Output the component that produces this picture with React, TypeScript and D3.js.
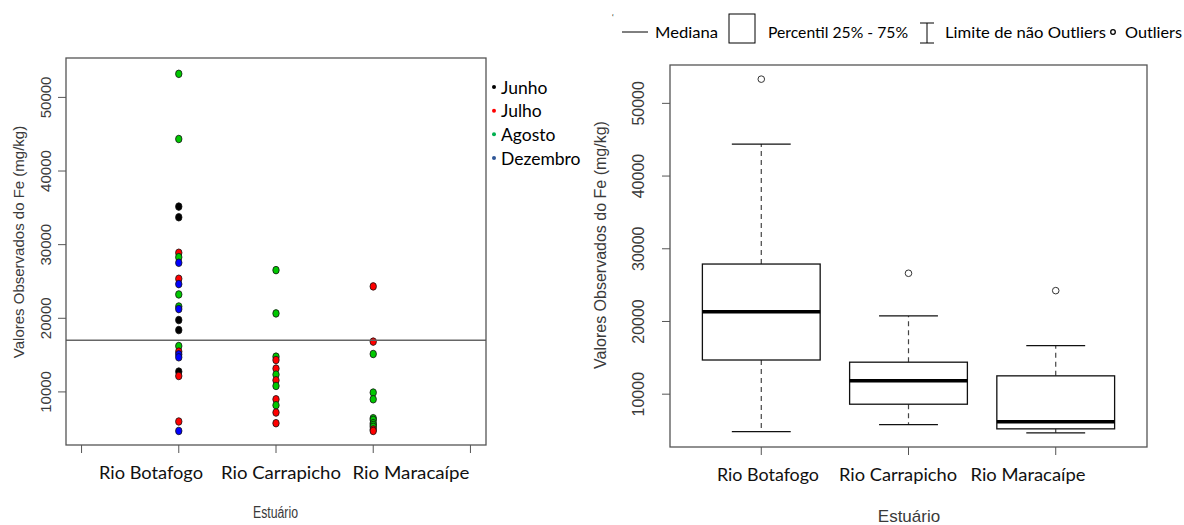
import React, { useRef, useEffect } from "react";
import * as d3 from "d3";

const estuaries = ["Rio Botafogo", "Rio Carrapicho", "Rio Maracaípe"];
const months = ["Junho", "Julho", "Agosto", "Dezembro"];
const yTicks = [10000, 20000, 30000, 40000, 50000];

// observações [Fe mg/kg, mês] por estuário
const botafogoObs: [number, string][] = [
  [53200, "Agosto"], [44350, "Agosto"], [35170, "Junho"], [33720, "Junho"],
  [28900, "Julho"], [28300, "Agosto"], [27540, "Dezembro"], [25370, "Julho"],
  [24640, "Dezembro"], [23240, "Agosto"], [21600, "Agosto"], [21250, "Dezembro"],
  [19760, "Junho"], [18400, "Junho"], [16230, "Agosto"], [15470, "Julho"],
  [15100, "Dezembro"], [14700, "Dezembro"], [12760, "Junho"], [12160, "Julho"],
  [5980, "Julho"], [4700, "Dezembro"],
];
const carrapichoObs: [number, string][] = [
  [26540, "Agosto"], [20660, "Agosto"], [14790, "Agosto"], [14330, "Julho"],
  [13170, "Julho"], [12350, "Agosto"], [11580, "Julho"], [10810, "Agosto"],
  [9000, "Julho"], [8190, "Agosto"], [7200, "Julho"], [5750, "Julho"],
];
const maracaipeObs: [number, string][] = [
  [24330, "Julho"], [16830, "Julho"], [15150, "Agosto"], [9910, "Agosto"],
  [9000, "Agosto"], [6430, "Agosto"], [6200, "Agosto"], [5750, "Agosto"],
  [5500, "Agosto"], [5250, "Agosto"], [4900, "Julho"], [4700, "Julho"],
];
const observations = [botafogoObs, carrapichoObs, maracaipeObs];
const referenceLine = 17000;

// estatísticas do boxplot
const boxLow = [4850, 5820, 4680];
const boxQ1 = [14700, 8620, 5230];
const boxMedian = [21350, 11830, 6190];
const boxQ3 = [27900, 14400, 12520];
const boxHigh = [44400, 20760, 16680];
const boxOutliers = [[53330], [26630], [24240]];

const pointColor: Record<string, string> = {
  Junho: "#000000",
  Julho: "#ff0000",
  Agosto: "#00c800",
  Dezembro: "#0000ff",
};
const legendColor: Record<string, string> = {
  Junho: "#000000",
  Julho: "#ff0000",
  Agosto: "#00b050",
  Dezembro: "#2e5597",
};

const axisText = "#3a3a3a";
const frameColor = "#555555";
const arial = "'Liberation Sans', Arial, sans-serif";
const calibri = "Lato, 'Open Sans', sans-serif";
// largura dos rótulos (fonte Calibri no original)
const labelWidths = [104, 120, 117];

type G = d3.Selection<SVGGElement, unknown, null, undefined>;

function drawScatter(g: G) {
  const x = d3.scaleLinear().domain([-0.16, 4.16]).range([66, 486]);
  const y = d3.scaleLinear().domain([2790, 55350]).range([445, 58]);

  // points
  observations.forEach((obs, i) => {
    g.selectAll(null)
      .data(obs)
      .enter()
      .append("ellipse")
      .attr("cx", x(i + 1))
      .attr("cy", (d) => y(d[0]))
      .attr("rx", 3.2)
      .attr("ry", 3.8)
      .attr("fill", (d) => pointColor[d[1]])
      .attr("stroke", "#111")
      .attr("stroke-width", 0.8);
  });

  g.append("line")
    .attr("x1", x.range()[0])
    .attr("x2", x.range()[1])
    .attr("y1", y(referenceLine))
    .attr("y2", y(referenceLine))
    .attr("stroke", "#666")
    .attr("stroke-width", 1.5);

  g.append("rect")
    .attr("x", 66)
    .attr("y", 58)
    .attr("width", 420)
    .attr("height", 387)
    .attr("fill", "none")
    .attr("stroke", frameColor)
    .attr("stroke-width", 1.3);

  // y axis
  yTicks.forEach((t) => {
    g.append("line")
      .attr("x1", 58).attr("x2", 66)
      .attr("y1", y(t)).attr("y2", y(t))
      .attr("stroke", frameColor);
    g.append("text")
      .attr("transform", `translate(45,${y(t)}) rotate(-90)`)
      .attr("text-anchor", "middle")
      .attr("dominant-baseline", "central")
      .attr("font-family", arial)
      .attr("font-size", 15)
      .attr("fill", axisText)
      .text(t);
  });

  // x axis ticks 0..4
  d3.range(0, 5).forEach((t) => {
    g.append("line")
      .attr("x1", x(t)).attr("x2", x(t))
      .attr("y1", 445).attr("y2", 453)
      .attr("stroke", frameColor);
  });

  const lx = d3.scalePoint<string>().domain(estuaries).range([151, 411]);
  estuaries.forEach((e, i) => {
    g.append("text")
      .attr("x", lx(e)! - labelWidths[i] / 2)
      .attr("y", 479)
      .attr("font-family", calibri)
      .attr("font-size", 17.5)
      .attr("textLength", labelWidths[i])
      .attr("lengthAdjust", "spacingAndGlyphs")
      .attr("fill", "#111")
      .text(e);
  });

  g.append("text")
    .attr("x", 275.5)
    .attr("y", 518)
    .attr("text-anchor", "middle")
    .attr("font-family", arial)
    .attr("font-size", 16)
    .attr("textLength", 45)
    .attr("lengthAdjust", "spacingAndGlyphs")
    .attr("fill", axisText)
    .text("Estuário");

  g.append("text")
    .attr("transform", "translate(18,242) rotate(-90)")
    .attr("text-anchor", "middle")
    .attr("dominant-baseline", "central")
    .attr("font-family", arial)
    .attr("font-size", 15)
    .attr("fill", axisText)
    .text("Valores Observados do Fe (mg/kg)");

  // legend
  const ly = d3.scaleLinear().domain([0, months.length - 1]).range([87, 158]);
  months.forEach((m, k) => {
    g.append("circle")
      .attr("cx", 494)
      .attr("cy", ly(k))
      .attr("r", 2)
      .attr("fill", legendColor[m]);
    g.append("text")
      .attr("x", 501)
      .attr("y", ly(k))
      .attr("dominant-baseline", "central")
      .attr("font-family", calibri)
      .attr("font-size", 17.5)
      .attr("fill", "#000")
      .text(m);
  });
}

function drawBoxplot(g: G) {
  const x = d3.scaleLinear().domain([0.38, 3.62]).range([670, 1147]);
  const y = d3.scaleLinear().domain([2734, 55276]).range([447, 65]);

  estuaries.forEach((_e, i) => {
    const c = i + 1;
    // whiskers
    [[boxQ3[i], boxHigh[i]], [boxQ1[i], boxLow[i]]].forEach(([a, b]) => {
      g.append("line")
        .attr("x1", x(c)).attr("x2", x(c))
        .attr("y1", y(a)).attr("y2", y(b))
        .attr("stroke", "#444")
        .attr("stroke-width", 1.2)
        .attr("stroke-dasharray", "5,4");
      g.append("line")
        .attr("x1", x(c - 0.2)).attr("x2", x(c + 0.2))
        .attr("y1", y(b)).attr("y2", y(b))
        .attr("stroke", "#111")
        .attr("stroke-width", 1.3);
    });
    g.append("rect")
      .attr("x", x(c - 0.4))
      .attr("y", y(boxQ3[i]))
      .attr("width", x(c + 0.4) - x(c - 0.4))
      .attr("height", y(boxQ1[i]) - y(boxQ3[i]))
      .attr("fill", "#fff")
      .attr("stroke", "#111")
      .attr("stroke-width", 1.3);
    g.append("line")
      .attr("x1", x(c - 0.4)).attr("x2", x(c + 0.4))
      .attr("y1", y(boxMedian[i])).attr("y2", y(boxMedian[i]))
      .attr("stroke", "#000")
      .attr("stroke-width", 3.5);
    boxOutliers[i].forEach((v) => {
      g.append("circle")
        .attr("cx", x(c))
        .attr("cy", y(v))
        .attr("r", 3.3)
        .attr("fill", "#fff")
        .attr("stroke", "#333")
        .attr("stroke-width", 1);
    });
  });

  g.append("rect")
    .attr("x", 670)
    .attr("y", 65)
    .attr("width", 477)
    .attr("height", 382)
    .attr("fill", "none")
    .attr("stroke", frameColor)
    .attr("stroke-width", 1.3);

  yTicks.forEach((t) => {
    g.append("line")
      .attr("x1", 662).attr("x2", 670)
      .attr("y1", y(t)).attr("y2", y(t))
      .attr("stroke", frameColor);
    g.append("text")
      .attr("transform", `translate(638,${y(t)}) rotate(-90)`)
      .attr("text-anchor", "middle")
      .attr("dominant-baseline", "central")
      .attr("font-family", arial)
      .attr("font-size", 16)
      .attr("fill", axisText)
      .text(t);
  });

  estuaries.forEach((_e, i) => {
    g.append("line")
      .attr("x1", x(i + 1)).attr("x2", x(i + 1))
      .attr("y1", 447).attr("y2", 455)
      .attr("stroke", frameColor);
  });

  const lx = d3.scalePoint<string>().domain(estuaries).range([768, 1028]);
  estuaries.forEach((e, i) => {
    g.append("text")
      .attr("x", lx(e)! - (labelWidths[i] - 2) / 2)
      .attr("y", 481)
      .attr("font-family", calibri)
      .attr("font-size", 17.5)
      .attr("textLength", labelWidths[i] - 2)
      .attr("lengthAdjust", "spacingAndGlyphs")
      .attr("fill", "#111")
      .text(e);
  });

  g.append("text")
    .attr("x", 909)
    .attr("y", 522)
    .attr("text-anchor", "middle")
    .attr("font-family", arial)
    .attr("font-size", 17)
    .attr("fill", axisText)
    .text("Estuário");

  g.append("text")
    .attr("transform", "translate(600,245) rotate(-90)")
    .attr("text-anchor", "middle")
    .attr("dominant-baseline", "central")
    .attr("font-family", arial)
    .attr("font-size", 16)
    .attr("fill", axisText)
    .text("Valores Observados do Fe (mg/kg)");

  // legend on top
  const ly = 31;
  const legendText = (x0: number, len: number, s: string) =>
    g.append("text")
      .attr("x", x0).attr("y", ly).attr("dominant-baseline", "central")
      .attr("font-family", calibri).attr("font-size", 16)
      .attr("textLength", len).attr("lengthAdjust", "spacingAndGlyphs")
      .attr("fill", "#000")
      .text(s);

  g.append("text")
    .attr("x", 612).attr("y", 20)
    .attr("font-family", calibri).attr("font-size", 8)
    .text("‘");
  g.append("line")
    .attr("x1", 622).attr("x2", 648).attr("y1", ly + 1).attr("y2", ly + 1)
    .attr("stroke", "#000").attr("stroke-width", 1);
  legendText(655, 63, "Mediana");
  g.append("rect")
    .attr("x", 729).attr("y", 14).attr("width", 26).attr("height", 29)
    .attr("fill", "#fff").attr("stroke", "#000").attr("stroke-width", 1);
  legendText(768, 140, "Percentil 25% - 75%");
  [[927, 927, 23, 43], [920, 934, 23, 23], [920, 934, 43, 43]].forEach(([x1, x2, y1, y2]) => {
    g.append("line")
      .attr("x1", x1).attr("x2", x2).attr("y1", y1).attr("y2", y2)
      .attr("stroke", "#000").attr("stroke-width", 1);
  });
  legendText(945, 161, "Limite de não Outliers");
  g.append("circle")
    .attr("cx", 1113).attr("cy", ly + 1).attr("r", 2.3)
    .attr("fill", "#fff").attr("stroke", "#000").attr("stroke-width", 1.3);
  legendText(1125, 57, "Outliers");
}

export default function App() {
  const svgRef = useRef<SVGSVGElement>(null);

  useEffect(() => {
    if (!svgRef.current) return;
    const svg = d3.select(svgRef.current);
    svg.selectAll("*").remove();
    drawScatter(svg.append("g") as unknown as G);
    drawBoxplot(svg.append("g") as unknown as G);
  }, []);

  return (
    <svg
      ref={svgRef}
      width={1184}
      height={525}
      style={{ position: "absolute", left: 0, top: 0, background: "#fff", display: "block" }}
    />
  );
}
